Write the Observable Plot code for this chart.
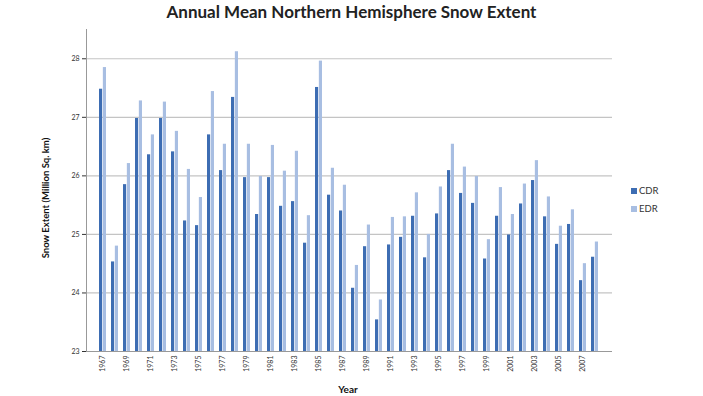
<!DOCTYPE html>
<html><head><meta charset="utf-8">
<script src="https://cdn.jsdelivr.net/npm/d3@7"></script>
<script src="https://cdn.jsdelivr.net/npm/@observablehq/plot@0.6"></script>
<style>
body{margin:0;background:#fff;font-family:Lato,"Open Sans",sans-serif;}
#wrap{position:relative;width:703px;height:396px;overflow:hidden;}
#title{position:absolute;top:1px;left:0;width:703px;text-align:center;font-weight:bold;font-size:17px;color:#222;}
#ylab{position:absolute;left:45px;top:198px;transform:translate(-50%,-50%) rotate(-90deg);font-weight:bold;font-size:9.5px;white-space:nowrap;color:#111;}
#xlab{position:absolute;left:348px;top:383px;transform:translateX(-50%);font-weight:bold;font-size:10px;color:#111;}
#legend{position:absolute;left:631px;top:182px;font-size:9.5px;color:#333;line-height:18px;}
#legend span.sw{display:inline-block;width:6px;height:6px;margin-right:2px;vertical-align:0px;}
</style></head>
<body>
<div id="wrap">
<div id="chart"></div>
<div id="title">Annual Mean Northern Hemisphere Snow Extent</div>
<div id="ylab">Snow Extent (Million Sq. km)</div>
<div id="xlab">Year</div>
<div id="legend"></div>
</div>
<script>
const years = [1967,1968,1969,1970,1971,1972,1973,1974,1975,1976,1977,1978,1979,1980,1981,1982,1983,1984,1985,1986,1987,1988,1989,1990,1991,1992,1993,1994,1995,1996,1997,1998,1999,2000,2001,2002,2003,2004,2005,2006,2007,2008];
const cdr = [27.48,24.53,25.85,26.98,26.36,26.98,26.41,25.23,25.15,26.70,26.09,27.34,25.97,25.34,25.97,25.48,25.56,24.85,27.51,25.67,25.40,24.08,24.79,23.54,24.82,24.95,25.31,24.60,25.35,26.09,25.70,25.53,24.58,25.31,24.99,25.52,25.92,25.30,24.83,25.17,24.21,24.61];
const edr = [27.85,24.80,26.21,27.28,26.70,27.26,26.76,26.11,25.63,27.44,26.54,28.12,26.54,25.99,26.52,26.08,26.42,25.32,27.96,26.13,25.84,24.47,25.16,23.88,25.29,25.30,25.71,25.00,25.81,26.54,26.15,25.99,24.91,25.80,25.34,25.86,26.26,25.64,25.14,25.42,24.50,24.87];
const seriesNames = ["CDR","EDR"];
const seriesColors = ["#3d6db3","#a8bee2"];
const yTicks = [23,24,25,26,27,28];
const xTickLabels = years.filter(y => y % 2 === 1);

const cdrData = years.map((y,i)=>({year:y, value:cdr[i]}));
const edrData = years.map((y,i)=>({year:y, value:edr[i]}));

const half = 3.85;
const chart = Plot.plot({
  width:703, height:396,
  marginTop:29, marginBottom:45, marginLeft:86, marginRight:91,
  style:{fontFamily:"Lato, 'Open Sans', sans-serif", fontSize:"7px", color:"#333", background:"transparent"},
  x:{domain:years, paddingInner:0.38, paddingOuter:0.19, label:null, ticks:xTickLabels, tickFormat:d=>String(d), tickRotate:-90, tickSize:0, tickPadding:4},
  y:{domain:[23,28.5], ticks:yTicks, tickFormat:d=>String(d), label:null, tickSize:4, tickPadding:3},
  marks:[
    Plot.ruleY(yTicks.filter(t=>t>23), {stroke:"#c4c4c4", strokeWidth:1.2}),
    Plot.barY(cdrData, {x:"year", y1:23, y2:"value", fill:seriesColors[0], insetRight:half}),
    Plot.barY(edrData, {x:"year", y1:23, y2:"value", fill:seriesColors[1], insetLeft:half}),
    Plot.ruleY([23], {stroke:"#999"}),
    Plot.frame({anchor:"left", stroke:"#999"})
  ]
});
document.getElementById("chart").appendChild(chart);
document.getElementById("legend").innerHTML = seriesNames.map((s,i)=>`<div><span class="sw" style="background:${seriesColors[i]}"></span>${s}</div>`).join("");
</script>
</body></html>
